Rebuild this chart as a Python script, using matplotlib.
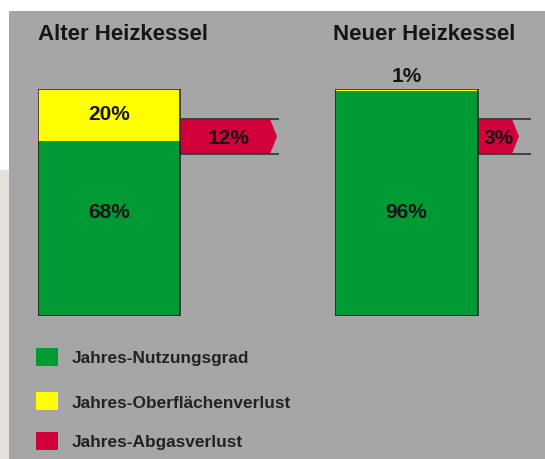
import matplotlib
matplotlib.use("Agg")
import matplotlib.pyplot as plt
from matplotlib.patches import Rectangle, Polygon
from matplotlib.transforms import blended_transform_factory

# ---- data ----
panels = ["Alter Heizkessel", "Neuer Heizkessel"]
nutzungsgrad = [68, 96]          # green
oberflaechenverlust = [20, 1]    # yellow
abgasverlust = [12, 3]           # red
legend_labels = ["Jahres-Nutzungsgrad", "Jahres-Oberflächenverlust", "Jahres-Abgasverlust"]

GREEN = "#009a35"
YELLOW = "#ffff00"
RED = "#d2003a"
BG = "#a6a6a6"
TXT = "#151515"
EDGE = "#1e1e1e"
FONT = "Liberation Sans"

W, H = 545, 459
fig = plt.figure(figsize=(W / 100, H / 100), dpi=100)
fig.patch.set_facecolor("white")

def fx(px):
    return px / W

def fy(py):
    return 1 - py / H

# background
fig.add_artist(Rectangle((0, 0), fx(9), fy(170), transform=fig.transFigure,
                         facecolor="#e4e2da", edgecolor="none", zorder=0))
fig.add_artist(Rectangle((fx(9), 0), 1 - fx(9), fy(11), transform=fig.transFigure,
                         facecolor=BG, edgecolor="none", zorder=0))

# panel geometry (pixels)
geo = [
    dict(left=38, bw=142, aw=262, rect_end=270, tip=277, line_end=279, title_x=37.5),
    dict(left=335, bw=143, aw=210, rect_end=512, tip=519, line_end=531, title_x=333),
]
top_px, bot_px = 89, 316
red_top_px, red_bot_px = 119, 154
PCT = 15

for i, g in enumerate(geo):
    ax = fig.add_axes([fx(g["left"]), fy(bot_px), g["aw"] / W, (bot_px - top_px) / H])
    ax.set_axis_off()
    total = nutzungsgrad[i] + oberflaechenverlust[i]
    ax.set_xlim(0, g["aw"] / g["bw"])
    ax.set_ylim(0, total)
    ax.bar(0, nutzungsgrad[i], width=1, align="edge", color=GREEN,
           edgecolor="none", zorder=2)
    ax.bar(0, oberflaechenverlust[i], width=1, align="edge", bottom=nutzungsgrad[i],
           color=YELLOW, edgecolor="none", zorder=2)
    # outline of the whole stack
    ax.bar(0, total, width=1, align="edge", color="none",
           edgecolor=EDGE, linewidth=1.1, zorder=2.5)

    # red flue-gas-loss arrow (schematic)
    tr = blended_transform_factory(ax.transData, ax.transAxes)
    y1 = 1 - (red_top_px - top_px) / (bot_px - top_px)
    y0 = 1 - (red_bot_px - top_px) / (bot_px - top_px)
    xr = (g["rect_end"] - g["left"]) / g["bw"]
    xt = (g["tip"] - g["left"]) / g["bw"]
    xl = (g["line_end"] - g["left"]) / g["bw"]
    poly = Polygon([(1, y0), (xr, y0), (xt, (y0 + y1) / 2), (xr, y1), (1, y1)],
                   closed=True, transform=tr, facecolor=RED, edgecolor="none",
                   zorder=1, clip_on=False)
    ax.add_patch(poly)
    for yy in (y0, y1):
        ax.plot([1, xl], [yy, yy], transform=tr, color="#3a3a3a", lw=1.3,
                zorder=1.5, clip_on=False, solid_capstyle="butt")
    ax.text((1 + xt) / 2, (y0 + y1) / 2 - 0.01, f"{abgasverlust[i]}%", transform=tr,
            ha="center", va="center", fontsize=PCT, fontweight="bold",
            color=TXT, family=FONT, zorder=3)

    # green label
    ax.text(0.5, 1 - (212 - top_px) / (bot_px - top_px), f"{nutzungsgrad[i]}%",
            transform=tr, ha="center", va="center", fontsize=PCT,
            fontweight="bold", color=TXT, family=FONT, zorder=3)
    # yellow label
    if oberflaechenverlust[i] >= 5:
        ax.text(0.5, nutzungsgrad[i] + oberflaechenverlust[i] / 2,
                f"{oberflaechenverlust[i]}%", ha="center", va="center",
                fontsize=PCT, fontweight="bold", color=TXT, family=FONT, zorder=3)
    else:
        ax.text(0.5, 1 + 13 / (bot_px - top_px), f"{oberflaechenverlust[i]}%",
                transform=tr, ha="center", va="center",
                fontsize=PCT, fontweight="bold", color=TXT, family=FONT, zorder=3)
    fig.text(fx(g["title_x"]), fy(35), panels[i], ha="left", va="center",
             fontsize=16, fontweight="bold", color=TXT, family=FONT)

# legend
colors = [GREEN, YELLOW, RED]
rows = [357, 401, 441]
for lab, c, yc in zip(legend_labels, colors, rows):
    fig.add_artist(Rectangle((fx(36), fy(yc + 9)), 22 / W, 18 / H,
                             transform=fig.transFigure, facecolor=c,
                             edgecolor="none", zorder=2))
    fig.text(fx(72), fy(yc + 2), lab, ha="left", va="center", fontsize=12.4,
             fontweight="bold", color="#222222", family=FONT)

fig.savefig("out.png", dpi=100, facecolor=fig.get_facecolor())
